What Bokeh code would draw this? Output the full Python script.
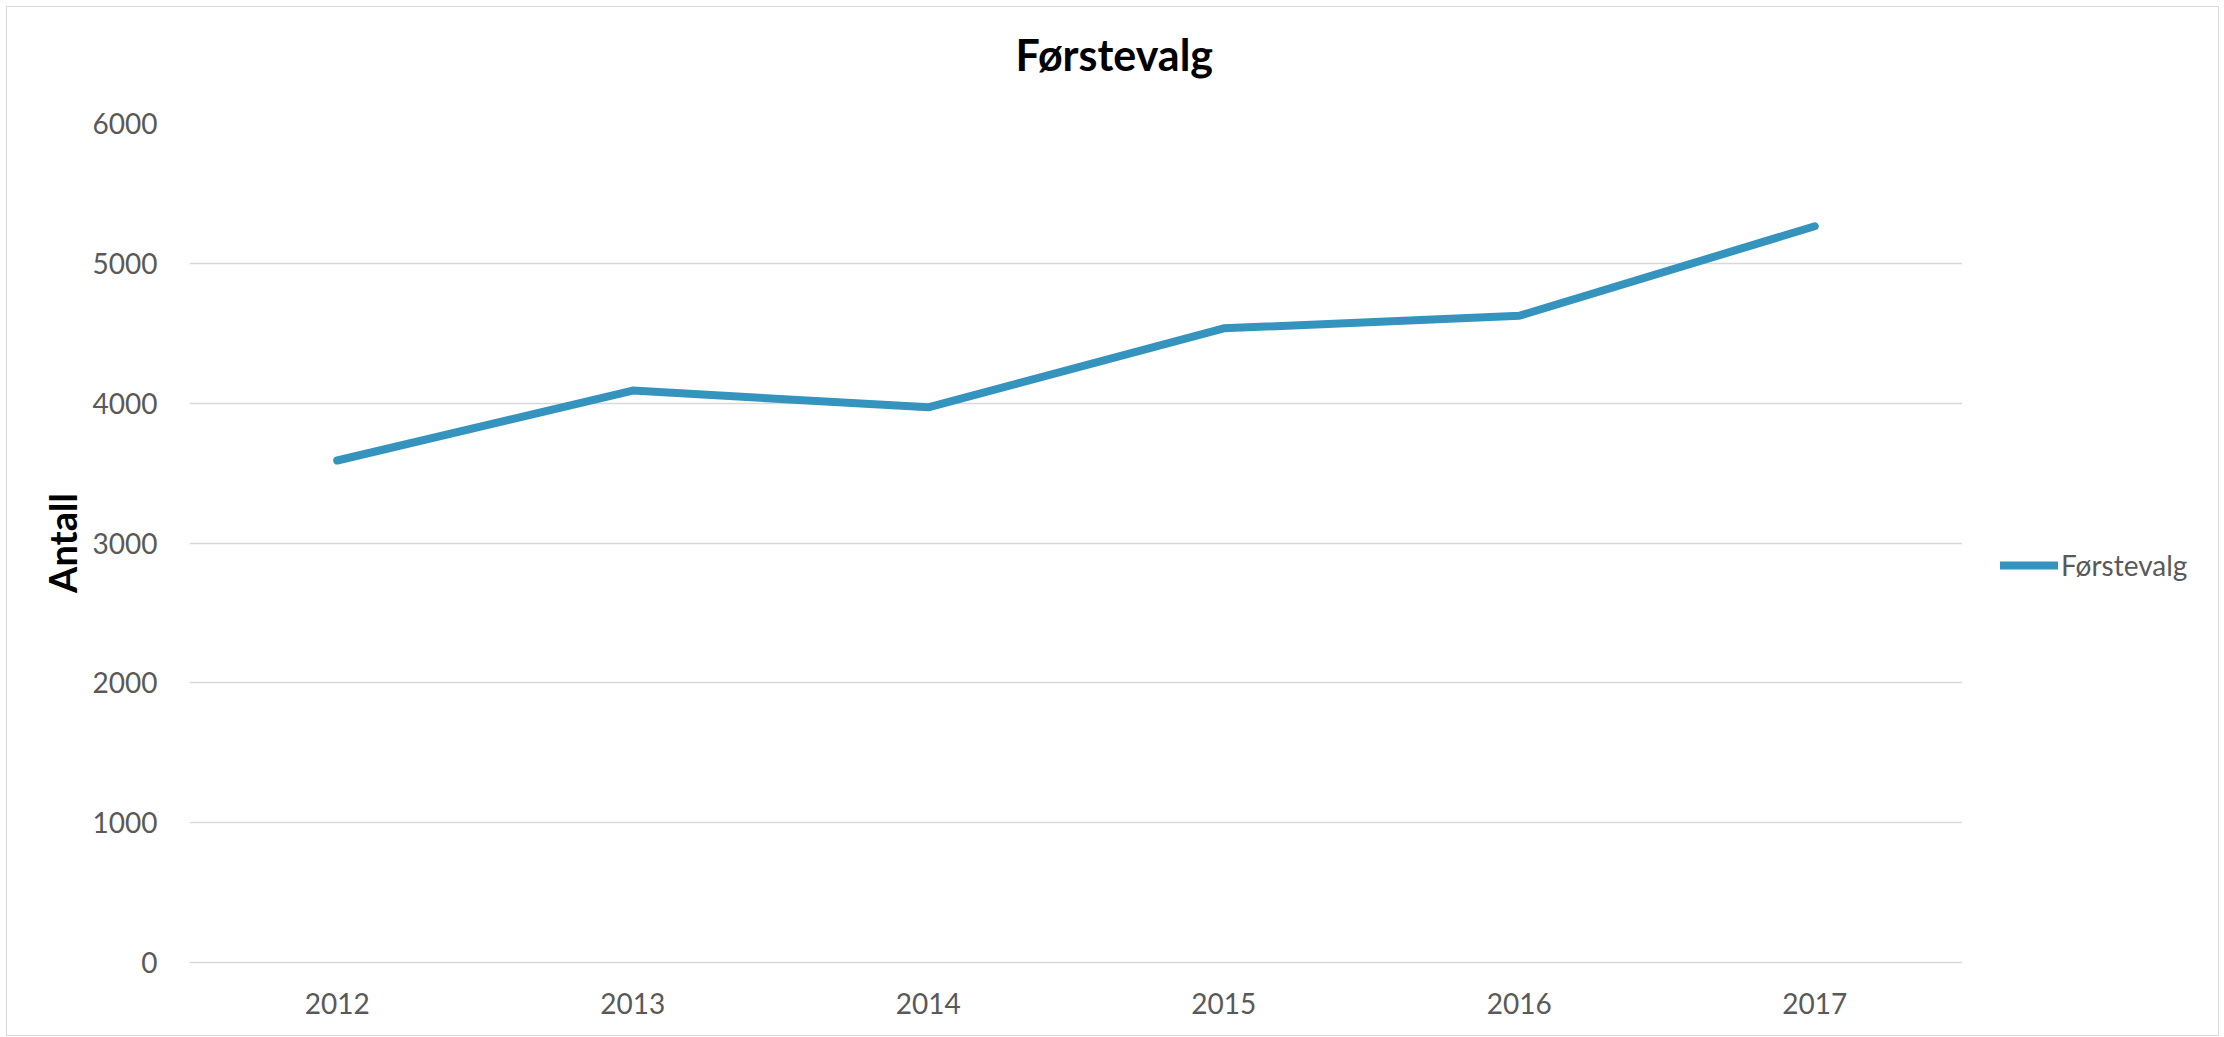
from bokeh.plotting import figure
from bokeh.layouts import row
from bokeh.models import (FactorRange, Range1d, FixedTicker, Legend, LegendItem,
                          ColumnDataSource, Title)
from bokeh.embed import file_html
from bokeh.resources import INLINE

years = ["2012", "2013", "2014", "2015", "2016", "2017"]
forstevalg = [3590, 4090, 3970, 4535, 4625, 5265]
y_ticks = [0, 1000, 2000, 3000, 4000, 5000, 6000]
series_name = "Førstevalg"
chart_title = "Førstevalg"
y_title = "Antall"

FONT = "Lato"
GRID = "#d9d9d9"
TEXT = "#595959"
LINE = "#3494be"

src = ColumnDataSource(dict(x=years, y=forstevalg))

H = 1028

p = figure(
    width=1955, height=H,
    x_range=FactorRange(*years, range_padding=0),
    y_range=Range1d(0, 6000),
    output_backend="svg", toolbar_location=None,
    min_border_left=182, min_border_right=0,
    min_border_top=116, min_border_bottom=H - 955,
)
p.title.text = ""
p.title.standoff = 0
p.title.visible = False

# spacer between chart title and plot area
p.add_layout(Title(text=" ", text_font_size="1px", standoff=41), "above")
p.add_layout(Title(text=chart_title, align="left", offset=826, standoff=0,
                   text_font=FONT, text_font_size="43px",
                   text_font_style="bold", text_color="#000000"), "above")

p.outline_line_color = None
p.background_fill_color = "white"
p.border_fill_color = "white"

r = p.line("x", "y", source=src, line_color=LINE, line_width=8,
           line_cap="round", line_join="round")

p.xgrid.grid_line_color = None
p.ygrid.grid_line_color = GRID
p.ygrid.grid_line_width = 1.5
p.yaxis.ticker = FixedTicker(ticks=y_ticks)

for ax in (p.xaxis[0], p.yaxis[0]):
    ax.major_tick_line_color = None
    ax.minor_tick_line_color = None
    ax.major_label_text_font = FONT
    ax.major_label_text_font_size = "28px"
    ax.major_label_text_color = TEXT

p.yaxis.axis_line_color = None
p.yaxis.major_label_standoff = 26
p.yaxis.axis_label = y_title
p.yaxis.axis_label_text_font = FONT
p.yaxis.axis_label_text_font_size = "38px"
p.yaxis.axis_label_text_font_style = "bold"
p.yaxis.axis_label_text_color = "#000000"
p.yaxis.axis_label_standoff = 5

p.xaxis.axis_line_color = GRID
p.xaxis.axis_line_width = 1.5
p.xaxis.major_label_standoff = 24

# legend area (same series, legend only)
p2 = figure(
    width=256, height=H,
    x_range=FactorRange(*years, range_padding=0),
    y_range=Range1d(0, 6000),
    output_backend="svg", toolbar_location=None,
    min_border_left=0, min_border_right=0, min_border_top=0, min_border_bottom=0,
)
p2.axis.visible = False
p2.grid.visible = False
p2.outline_line_color = None
p2.background_fill_color = "white"
p2.border_fill_color = "white"
r2 = p2.line("x", "y", source=src, line_color=LINE, line_width=8,
             line_cap="round", visible=False)

legend = Legend(items=[LegendItem(label=series_name, renderers=[r2])],
                location=(38, 380), orientation="vertical",
                glyph_width=58, glyph_height=34, label_standoff=3,
                padding=0, margin=0, spacing=0,
                border_line_color=None, background_fill_alpha=0,
                inactive_fill_alpha=0,
                label_text_font=FONT, label_text_font_size="28px",
                label_text_color=TEXT)
p2.add_layout(legend, "center")

layout = row(p, p2)
layout.margin = (6, 0, 0, 6)
layout.styles = {"border": "1px solid #d9d9d9"}

open("out.html", "w").write(file_html(layout, INLINE))
